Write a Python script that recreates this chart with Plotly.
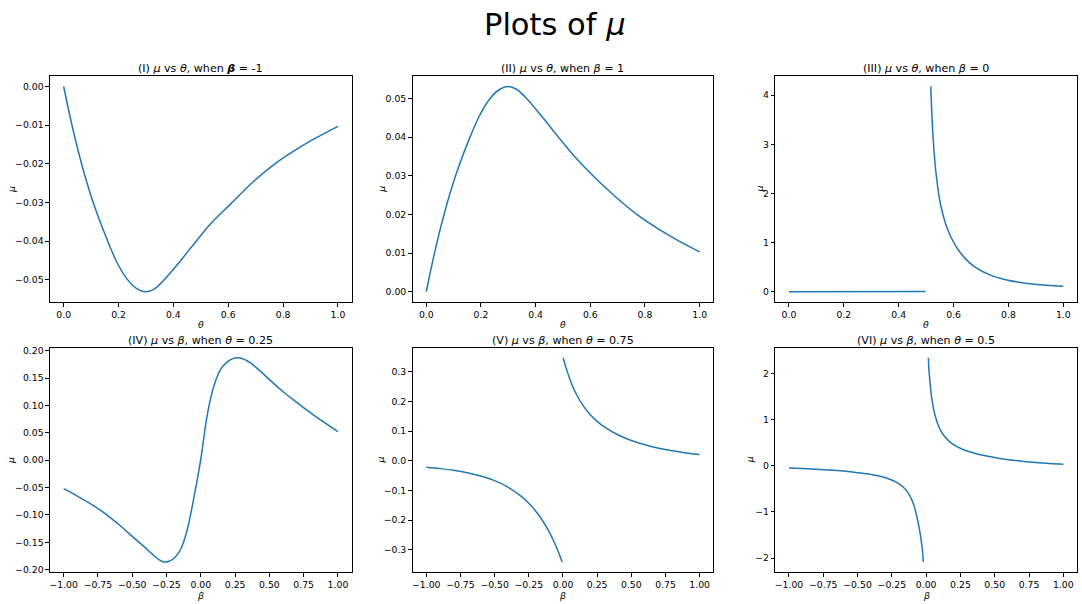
import plotly.graph_objects as go

# ---------------- data ----------------
# Panel I / II : mu vs theta for beta = -1 and beta = 1
theta_12 = [0.0, 0.03, 0.065, 0.107, 0.16, 0.195, 0.23, 0.265, 0.30, 0.33, 0.36,
            0.42, 0.48, 0.54, 0.61, 0.69, 0.77, 0.85, 0.92, 1.0]
mu_beta_neg1 = [0.0, -0.0099, -0.0199, -0.0299, -0.0399, -0.0456, -0.0497, -0.0522,
                -0.0531, -0.0524, -0.0505, -0.0456, -0.0403, -0.0352, -0.0303,
                -0.0247, -0.0200, -0.0162, -0.0133, -0.0103]
mu_beta_pos1 = [0.0, 0.0100, 0.0200, 0.0300, 0.0400, 0.0456, 0.0497, 0.0522,
                0.0531, 0.0524, 0.0505, 0.0456, 0.0403, 0.0352, 0.0300,
                0.0247, 0.0200, 0.0162, 0.0133, 0.0103]

# Panel III : mu vs theta for beta = 0
theta_b0_flat = [0.0, 0.165, 0.165, 0.498]
mu_b0_flat = [0.0, 0.0, 0.006, 0.006]
theta_b0 = [0.517, 0.521, 0.526, 0.532, 0.538, 0.547, 0.556, 0.577, 0.605,
            0.641, 0.677, 0.732, 0.798, 0.877, 0.94, 1.0]
mu_b0 = [4.176, 3.595, 3.077, 2.64, 2.316, 1.947, 1.688, 1.286, 0.957,
         0.684, 0.506, 0.343, 0.233, 0.1645, 0.133, 0.114]

# Panel IV : mu vs beta for theta = 0.25
beta_t025 = [-1.0, -0.9, -0.8, -0.7, -0.6, -0.5, -0.45, -0.4, -0.35, -0.3, -0.266,
             -0.23, -0.2, -0.17, -0.14, -0.1, -0.05, 0.0, 0.05, 0.1, 0.15, 0.2,
             0.23, 0.266, 0.3, 0.33, 0.36, 0.4, 0.45, 0.5, 0.6, 0.7, 0.8, 0.9, 1.0]
mu_t025 = [-0.052, -0.0655, -0.080, -0.097, -0.117, -0.139, -0.150, -0.161,
           -0.1725, -0.1825, -0.186, -0.1845, -0.180, -0.172, -0.159, -0.128,
           -0.068, 0.002, 0.087, 0.139, 0.168, 0.181, 0.185, 0.187, 0.1858,
           0.1825, 0.178, 0.170, 0.159, 0.147, 0.125, 0.1055, 0.0865, 0.069,
           0.052]

# Panel V : mu vs beta for theta = 0.75 (two branches)
beta_t075_left = [-1.0, -0.9, -0.8, -0.7, -0.6, -0.5, -0.4, -0.3, -0.25, -0.2,
                  -0.15, -0.1, -0.075, -0.05, -0.025, -0.006]
mu_t075_left = [-0.0220, -0.0264, -0.0322, -0.0403, -0.0514, -0.0671, -0.0894,
                -0.1218, -0.1433, -0.1695, -0.2015, -0.241, -0.264, -0.2896,
                -0.318, -0.342]
beta_t075_right = [0.001, 0.025, 0.05, 0.075, 0.1, 0.15, 0.2, 0.25, 0.3, 0.4,
                   0.5, 0.6, 0.7, 0.8, 0.9, 1.0]
mu_t075_right = [0.348, 0.3104, 0.2766, 0.2478, 0.2231, 0.1845, 0.1557, 0.1333,
                 0.1153, 0.0880, 0.0686, 0.0539, 0.0426, 0.0337, 0.0267, 0.0211]

# Panel VI : mu vs beta for theta = 0.5 (two branches)
beta_t05_left = [-1.0, -0.9, -0.8, -0.7, -0.6, -0.5, -0.42, -0.335, -0.28, -0.238,
                 -0.2, -0.166, -0.135, -0.105, -0.085, -0.069, -0.055, -0.045,
                 -0.035, -0.028, -0.021]
mu_t05_left = [-0.05, -0.0611, -0.0744, -0.0914, -0.115, -0.148, -0.180, -0.228,
               -0.275, -0.3235, -0.3875, -0.4655, -0.5704, -0.733, -0.90, -1.087,
               -1.282, -1.444, -1.643, -1.80, -2.085]
beta_t05_right = [0.016, 0.02, 0.028, 0.04, 0.052, 0.06, 0.07, 0.082, 0.0955,
                  0.11, 0.125, 0.161, 0.2, 0.257, 0.3, 0.366, 0.45, 0.536, 0.6,
                  0.7, 0.8, 0.9, 1.0]
mu_t05_right = [2.34, 2.10, 1.82, 1.475, 1.27, 1.15, 1.043, 0.928, 0.827,
                0.745, 0.672, 0.55, 0.46, 0.37, 0.319, 0.262, 0.206, 0.160,
                0.133, 0.0986, 0.071, 0.051, 0.036]

# tick labels
theta_ticks = [0.0, 0.2, 0.4, 0.6, 0.8, 1.0]
theta_ticktext = ["0.0", "0.2", "0.4", "0.6", "0.8", "1.0"]
beta_ticks = [-1.0, -0.75, -0.5, -0.25, 0.0, 0.25, 0.5, 0.75, 1.0]
beta_ticktext = ["\u22121.00", "\u22120.75", "\u22120.50", "\u22120.25", "0.00",
                 "0.25", "0.50", "0.75", "1.00"]
y1_ticks = [0.0, -0.01, -0.02, -0.03, -0.04, -0.05]
y1_ticktext = ["0.00", "\u22120.01", "\u22120.02", "\u22120.03", "\u22120.04", "\u22120.05"]
y2_ticks = [0.0, 0.01, 0.02, 0.03, 0.04, 0.05]
y2_ticktext = ["0.00", "0.01", "0.02", "0.03", "0.04", "0.05"]
y3_ticks = [0, 1, 2, 3, 4]
y3_ticktext = ["0", "1", "2", "3", "4"]
y4_ticks = [-0.2, -0.15, -0.1, -0.05, 0.0, 0.05, 0.1, 0.15, 0.2]
y4_ticktext = ["\u22120.20", "\u22120.15", "\u22120.10", "\u22120.05", "0.00",
               "0.05", "0.10", "0.15", "0.20"]
y5_ticks = [-0.3, -0.2, -0.1, 0.0, 0.1, 0.2, 0.3]
y5_ticktext = ["\u22120.3", "\u22120.2", "\u22120.1", "0.0", "0.1", "0.2", "0.3"]
y6_ticks = [-2, -1, 0, 1, 2]
y6_ticktext = ["\u22122", "\u22121", "0", "1", "2"]

titles = [
    "(I) <i>μ</i> vs <i>θ</i>, when <b><i>β</i></b> = -1",
    "(II) <i>μ</i> vs <i>θ</i>, when <i>β</i> = 1",
    "(III) <i>μ</i> vs <i>θ</i>, when <i>β</i> = 0",
    "(IV) <i>μ</i> vs <i>β</i>, when <i>θ</i> = 0.25",
    "(V) <i>μ</i> vs <i>β</i>, when <i>θ</i> = 0.75",
    "(VI) <i>μ</i> vs <i>β</i>, when <i>θ</i> = 0.5",
]

# ---------------- layout geometry ----------------
W, H = 1082, 604
FONT = "DejaVu Sans"
BLUE = "#1f77b4"
col_px = [(49, 351), (412, 713), (775, 1077)]
row_px = [(74, 302), (348, 575)]


def xdom(c):
    return [col_px[c][0] / W, col_px[c][1] / W]


def ydom(r):
    return [(H - row_px[r][1]) / H, (H - row_px[r][0]) / H]


def padded(vals):
    lo, hi = min(vals), max(vals)
    m = 0.05 * (hi - lo)
    return [lo - m, hi + m]


fig = go.Figure()

series = [
    [(theta_12, mu_beta_neg1, "spline")],
    [(theta_12, mu_beta_pos1, "spline")],
    [(theta_b0_flat, mu_b0_flat, "linear"), (theta_b0, mu_b0, "spline")],
    [(beta_t025, mu_t025, "spline")],
    [(beta_t075_left, mu_t075_left, "spline"), (beta_t075_right, mu_t075_right, "spline")],
    [(beta_t05_left, mu_t05_left, "spline"), (beta_t05_right, mu_t05_right, "spline")],
]
yticks = [(y1_ticks, y1_ticktext), (y2_ticks, y2_ticktext), (y3_ticks, y3_ticktext),
          (y4_ticks, y4_ticktext), (y5_ticks, y5_ticktext), (y6_ticks, y6_ticktext)]

axis_common = dict(
    showline=True, mirror=True, linecolor="black", linewidth=1,
    ticks="outside", ticklen=3.5, tickwidth=1, tickcolor="black",
    showgrid=False, zeroline=False,
    tickfont=dict(family=FONT, size=9.3, color="black"),
)

annotations = []
for i in range(6):
    r, c = divmod(i, 3)
    n = "" if i == 0 else str(i + 1)
    xs_all, ys_all = [], []
    for xs, ys, shape in series[i]:
        fig.add_trace(go.Scatter(
            x=xs, y=ys, mode="lines", xaxis="x" + n, yaxis="y" + n,
            line=dict(color=BLUE, width=1.5, shape=shape, smoothing=1.0),
            showlegend=False, hoverinfo="skip"))
        xs_all += list(xs)
        ys_all += list(ys)
    if r == 0:
        xt, xtt = theta_ticks, theta_ticktext
        xlabel = "<i>θ</i>"
    else:
        xt, xtt = beta_ticks, beta_ticktext
        xlabel = "<i>β</i>"
    fig.layout["xaxis" + n] = dict(
        domain=xdom(c), anchor="y" + n, range=padded(xs_all),
        tickvals=xt, ticktext=xtt, **axis_common)
    fig.layout["yaxis" + n] = dict(
        domain=ydom(r), anchor="x" + n, range=padded(ys_all),
        tickvals=yticks[i][0], ticktext=yticks[i][1], **axis_common)

    cx = (col_px[c][0] + col_px[c][1]) / 2
    # subplot title
    annotations.append(dict(
        text=titles[i], x=cx / W, y=(H - (row_px[r][0] - 7.5)) / H,
        xref="paper", yref="paper", xanchor="center", yanchor="middle",
        showarrow=False, font=dict(family=FONT, size=11.1, color="black")))
    # x label
    annotations.append(dict(
        text=xlabel, x=cx / W, y=(H - (row_px[r][1] + 23)) / H,
        xref="paper", yref="paper", xanchor="center", yanchor="middle",
        showarrow=False, font=dict(family=FONT, size=9.3, color="black")))

ylabel_x = [10, 380, 759, 10, 380, 750]
for i in range(6):
    r, c = divmod(i, 3)
    cy = (row_px[r][0] + row_px[r][1]) / 2
    annotations.append(dict(
        text="<i>μ</i>", x=ylabel_x[i] / W, y=(H - cy) / H,
        xref="paper", yref="paper", xanchor="center", yanchor="middle",
        textangle=-90, showarrow=False,
        font=dict(family=FONT, size=9.3, color="black")))

annotations.append(dict(
    text="Plots of <i>μ</i>", x=555 / W, y=(H - 22) / H,
    xref="paper", yref="paper", xanchor="center", yanchor="middle",
    showarrow=False, font=dict(family=FONT, size=30.5, color="black")))

fig.update_layout(
    width=W, height=H, margin=dict(l=0, r=0, t=0, b=0),
    paper_bgcolor="white", plot_bgcolor="white",
    annotations=annotations, showlegend=False,
)

fig.write_html(
    "out.html",
    config={"displayModeBar": False},
    post_script="document.body.style.margin='0';"
                "document.body.style.overflow='hidden';",
)
